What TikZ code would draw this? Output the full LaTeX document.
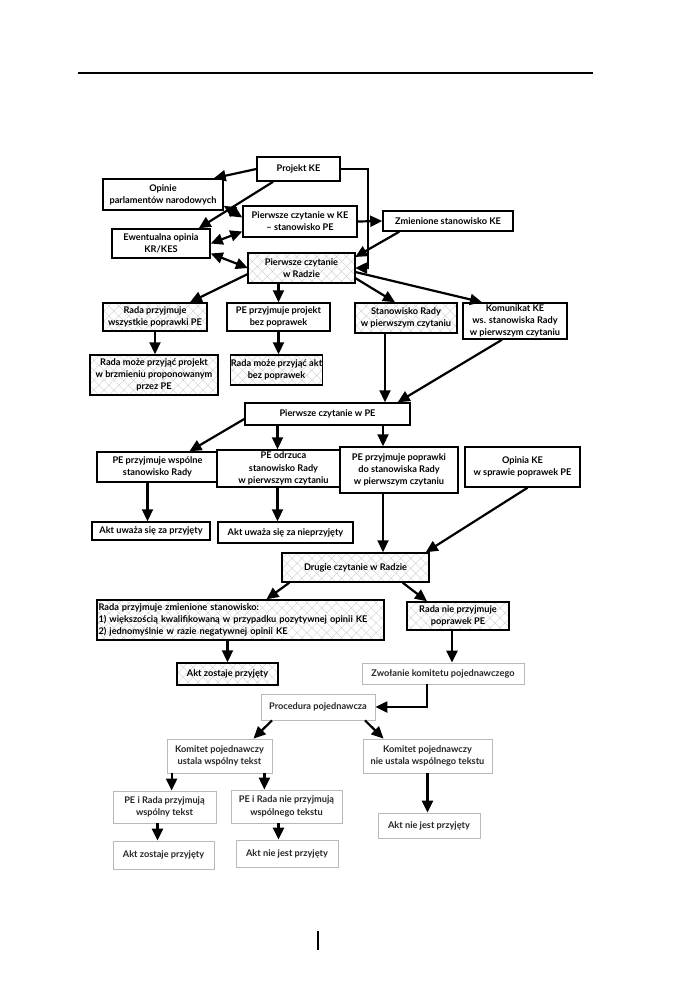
\documentclass[tikz,border=0pt]{standalone}
\usepackage{fontspec}
\setmainfont{Lato}
\usetikzlibrary{arrows.meta,calc,patterns.meta}
\newcommand{\boxfont}{\fontsize{9.2}{12.2}\selectfont\bfseries}
\tikzset{
  outline/.style={draw, line width=1.5pt, align=center, inner sep=0.5pt, font=\boxfont},
  stage/.style={outline, fill=white},
  hatched/.style={outline, pattern={Hatch[angle=45,distance=7pt,line width=0.35pt]}, pattern color=gray!40},
  light/.style={draw=gray!55, line width=0.8pt, fill=white, align=center, inner sep=0.5pt, font=\boxfont, text=black!85},
  flow/.style={-{Triangle[length=12pt,width=11pt]}, line width=2.2pt},
  twoway/.style={{Triangle[length=12pt,width=11pt]}-{Triangle[length=12pt,width=11pt]}, line width=2.2pt},
}
\begin{document}
\begin{tikzpicture}[x=1pt, y=-1pt]
  \fill[white] (0,0) rectangle (681,999);
  \useasboundingbox (0,0) rectangle (681,999);
  % page rule and folio mark
  \draw[line width=2.2pt] (78,73) -- (593,73);
  \draw[line width=1.6pt] (318,931) -- (318,950);

  %% first reading
  \node[stage, minimum width=83pt, minimum height=24pt] (proj) at (298.5,169) {Projekt KE};
  \node[stage, minimum width=120pt, minimum height=31pt] (opin) at (163,194.5) {Opinie\\parlamentów narodowych};
  \node[stage, minimum width=114pt, minimum height=31pt] (pkE) at (300,221.5) {Pierwsze czytanie w KE\\-- stanowisko PE};
  \node[stage, minimum width=130pt, minimum height=20pt] (zmien) at (448,221) {Zmienione stanowisko KE};
  \node[stage, minimum width=98pt, minimum height=29pt] (ewent) at (161,243.5) {Ewentualna opinia\\KR/KES};
  \node[hatched, minimum width=107pt, minimum height=30pt] (radzie) at (301.5,268) {Pierwsze czytanie\\w Radzie};

  \node[hatched, minimum width=104pt, minimum height=28pt] (rwszyst) at (155,317) {Rada przyjmuje\\wszystkie poprawki PE};
  \node[stage, minimum width=103pt, minimum height=28pt] (peproj) at (278.5,317) {PE przyjmuje projekt\\bez poprawek};
  \node[hatched, minimum width=102pt, minimum height=30pt] (stan) at (406,318) {Stanowisko Rady\\w pierwszym czytaniu};
  \node[stage, minimum width=104pt, minimum height=36pt] (komun) at (515,321) {Komunikat KE\\ws. stanowiska Rady\\w pierwszym czytaniu};
  \node[hatched, minimum width=128pt, minimum height=40pt] (rmozep) at (154,375) {Rada może przyjąć projekt\\w brzmieniu proponowanym\\przez PE};
  \node[hatched, minimum width=90pt, minimum height=30pt] (rmozea) at (276.5,370) {Rada może przyjąć akt\\bez poprawek};

  %% first reading in EP
  \node[stage, minimum width=165pt, minimum height=22pt] (pcpe) at (327.5,414) {Pierwsze czytanie w PE};
  \node[stage, minimum width=121pt, minimum height=30pt] (pewsp) at (157.5,467) {PE przyjmuje wspólne\\stanowisko Rady};
  \node[stage, minimum width=133pt, minimum height=37pt] (peodrz) at (283.5,468.5) {PE odrzuca\\stanowisko Rady\\w pierwszym czytaniu};
  \node[stage, minimum width=118pt, minimum height=46pt] (pepopr) at (399,470) {PE przyjmuje poprawki\\do stanowiska Rady\\w pierwszym czytaniu};
  \node[stage, minimum width=115pt, minimum height=40pt] (opke) at (522.5,467) {Opinia KE\\w sprawie poprawek PE};
  \node[stage, minimum width=118pt, minimum height=18pt] (aktp) at (151,531) {Akt uważa się za przyjęty};
  \node[stage, minimum width=135pt, minimum height=21pt] (aktnp) at (285.5,532.5) {Akt uważa się za nieprzyjęty};

  %% second reading
  \node[hatched, minimum width=147pt, minimum height=29pt] (drugie) at (355.5,567.5) {Drugie czytanie w Radzie};
  \node[hatched, minimum width=287pt, minimum height=40pt, text width=284pt, align=left] (rzmien) at (240.5,620) {Rada przyjmuje zmienione stanowisko:\\1) większością kwalifikowaną w przypadku pozytywnej opinii KE\\2) jednomyślnie w razie negatywnej opinii KE};
  \node[hatched, minimum width=102pt, minimum height=28pt] (rnie) at (458,616) {Rada nie przyjmuje\\poprawek PE};
  \node[hatched, minimum width=101pt, minimum height=22pt] (aktzp) at (227.5,674) {Akt zostaje przyjęty};

  %% conciliation
  \node[light, minimum width=162pt, minimum height=21pt] (zwol) at (443,673.5) {Zwołanie komitetu pojednawczego};
  \node[light, minimum width=114pt, minimum height=26pt] (proc) at (318,707) {Procedura pojednawcza};
  \node[light, minimum width=105pt, minimum height=34pt] (kust) at (219.5,756) {Komitet pojednawczy\\ustala wspólny tekst};
  \node[light, minimum width=129pt, minimum height=34pt] (knust) at (427.5,756) {Komitet pojednawczy\\nie ustala wspólnego tekstu};
  \node[light, minimum width=103pt, minimum height=32pt] (pprz) at (164.5,807) {PE i Rada przyjmują\\wspólny tekst};
  \node[light, minimum width=111pt, minimum height=33pt] (pnprz) at (286.5,806.5) {PE i Rada nie przyjmują\\wspólnego tekstu};
  \node[light, minimum width=101pt, minimum height=28pt] (aktz2) at (163.5,855) {Akt zostaje przyjęty};
  \node[light, minimum width=102pt, minimum height=27pt] (aktn2) at (287,853.5) {Akt nie jest przyjęty};
  \node[light, minimum width=102pt, minimum height=25pt] (aktn3) at (429,825.5) {Akt nie jest przyjęty};

  %% connectors, top part
  \draw[flow] (proj.west) -- ([xshift=-10pt]opin.north east);
  \draw[flow] ($(proj.south west)!0.2!(proj.south east)$) -- ([xshift=-12pt]ewent.north east);
  \draw[twoway] ([yshift=5pt]opin.south east) -- ([yshift=4pt]pkE.west);
  \draw[twoway] ([yshift=-10pt]pkE.west) -- (ewent.east);
  \draw[twoway] ([yshift=-10pt]ewent.east) -- (radzie.west);
  \draw[flow] (pkE.east) -- (zmien.west);
  \draw[flow] ([xshift=17pt]zmien.south west) -- ([yshift=11pt]radzie.east);
  \draw[flow] (proj.east) -- ++(27,0) |- (radzie.east);
  \draw[flow] ([yshift=-6pt]radzie.west) -- ([xshift=35pt]rwszyst.north);
  \draw[flow] (peproj.north |- radzie.south) -- (peproj.north);
  \draw[flow] ([yshift=-10pt]radzie.east) -- ([xshift=-11pt]stan.north);
  \draw[flow] ([yshift=-4pt]radzie.east) -- ([xshift=-33pt]komun.north);
  \draw[flow] (rwszyst.south) -- (rwszyst.south |- rmozep.north);
  \draw[flow] (peproj.south) -- (peproj.south |- rmozea.north);
  \draw[flow] ($(stan.south)+(-21,0)$) -- ($(stan.south |- pcpe.north)+(-21,0)$);
  \draw[flow] ([xshift=-13pt]komun.south) -- ([xshift=-13pt]pcpe.north east);

  %% connectors, EP reading
  \draw[flow] ([yshift=-5pt]pcpe.west) -- ([xshift=32pt]pewsp.north);
  \draw[flow] ($(peodrz.north |- pcpe.south)+(-6,0)$) -- ($(peodrz.north)+(-6,0)$);
  \draw[flow] ($(pepopr.north |- pcpe.south)+(-16,0)$) -- ($(pepopr.north)+(-16,0)$);
  \draw[flow] ($(pewsp.south)+(-10,0)$) -- ($(pewsp.south |- aktp.north)+(-10,0)$);
  \draw[flow] ($(peodrz.south)+(-6,0)$) -- ($(peodrz.south |- aktnp.north)+(-6,0)$);
  \draw[flow] ($(pepopr.south)+(-16,0)$) -- ($(pepopr.south |- drugie.north)+(-16,0)$);
  \draw[flow] ([xshift=5pt]opke.south) -- ([xshift=-4pt]drugie.north east);

  %% connectors, second reading and conciliation
  \draw[flow] ([xshift=8pt]drugie.south west) -- ([xshift=26pt]rzmien.north);
  \draw[flow] ([xshift=-27pt]drugie.south east) -- ([xshift=-31pt]rnie.north);
  \draw[flow] (aktzp.north |- rzmien.south) -- (aktzp.north);
  \draw[flow] ($(rnie.south)+(-6,0)$) -- ($(rnie.south |- zwol.north)+(-6,0)$);
  \draw[flow] ($(zwol.south)+(-16,0)$) |- (proc.east);
  \draw[flow] ([xshift=-46pt]proc.south) -- ([xshift=34pt]kust.north);
  \draw[flow] ([xshift=47pt]proc.south) -- ([xshift=-44pt]knust.north);
  \draw[flow] ($(kust.south west)+(5,0)$) -- ($(kust.south west |- pprz.north)+(5,0)$);
  \draw[flow] ($(kust.south east)+(-8,0)$) -- ($(kust.south east |- pnprz.north)+(-8,0)$);
  \draw[flow] ($(pprz.south)+(-7,0)$) -- ($(pprz.south |- aktz2.north)+(-7,0)$);
  \draw[flow] ($(pnprz.south)+(-8,0)$) -- ($(pnprz.south |- aktn2.north)+(-8,0)$);
  \draw[flow] (knust.south) -- (knust.south |- aktn3.north);
\end{tikzpicture}
\end{document}
